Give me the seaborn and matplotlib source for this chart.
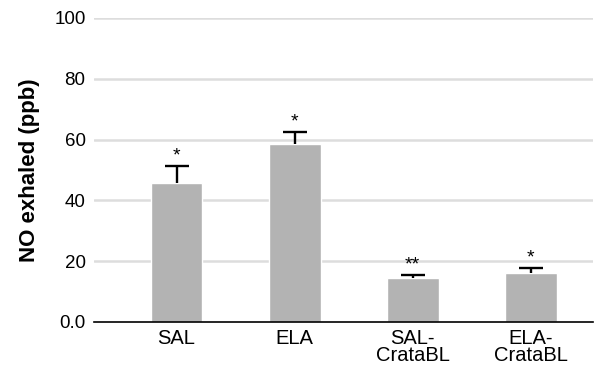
import matplotlib
matplotlib.use("Agg")
import matplotlib.pyplot as plt
import seaborn as sns
import pandas as pd
import numpy as np

categories = ["SAL", "ELA", "SAL-\nCrataBL", "ELA-\nCrataBL"]
means = [45.7, 58.5, 14.5, 16.0]
errors = [5.6, 4.0, 1.0, 1.8]
stars = ["*", "*", "**", "*"]
yticks = [0, 20, 40, 60, 80, 100]
ytick_labels = ["0.0", "20", "40", "60", "80", "100"]

sns.set_theme(style="white")
plt.rcParams['font.family'] = ['Liberation Sans', 'DejaVu Sans']

df = pd.DataFrame({"group": categories, "value": means})

fig = plt.figure(figsize=(5.98, 3.73), dpi=100)
ax = fig.add_axes([0.157, 0.137, 0.835, 0.815])

for y in yticks[1:]:
    ax.axhline(y, color="#dddddd", lw=1.8, zorder=0)

sns.barplot(data=df, x="group", y="value", color="#b3b3b3", saturation=1,
            width=0.44, errorbar=None, ax=ax, zorder=2)

x = np.arange(len(categories))
_, caps, _ = ax.errorbar(x, means, yerr=[np.zeros(len(errors)), errors], fmt="none",
                         ecolor="black", elinewidth=1.7, capsize=8.5, capthick=1.7, zorder=3)
caps[0].set_visible(False)

for xi, m, e, s in zip(x, means, errors, stars):
    ax.text(xi, m + e + 1.8, s, ha="center", va="baseline", fontsize=14, color="black")

ax.set_xlim(-0.70, 3.53)
ax.set_ylim(0, 100)
ax.set_yticks(yticks)
ax.set_yticklabels(ytick_labels)
ax.tick_params(axis="y", length=0, labelsize=13.5, pad=6, colors="black")
ax.tick_params(axis="x", length=0, labelsize=14.5, pad=5, colors="black")
for lbl in ax.get_xticklabels():
    lbl.set_linespacing(0.9)
ax.set_xlabel("")
ax.set_ylabel("NO exhaled (ppb)", fontsize=16, fontweight="bold", labelpad=10, color="black")

for side in ["top", "right", "left"]:
    ax.spines[side].set_visible(False)
ax.spines["bottom"].set_color("black")
ax.spines["bottom"].set_linewidth(1.2)
ax.spines["bottom"].set_zorder(4)

fig.savefig("out.png", dpi=100)
